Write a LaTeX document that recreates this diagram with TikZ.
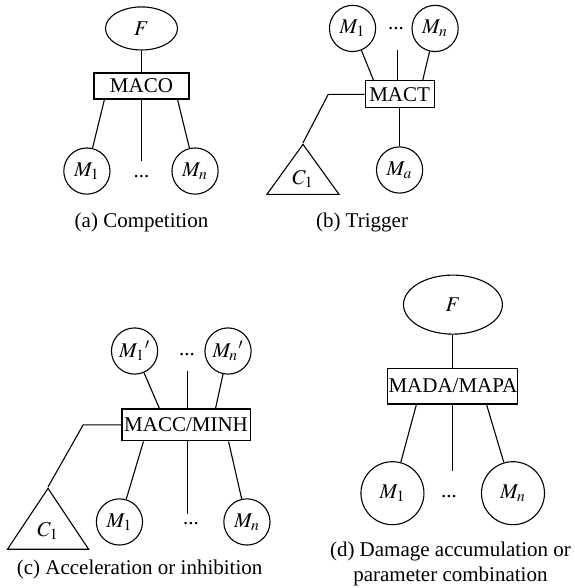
\documentclass[tikz,border=0pt]{standalone}
\usepackage{mathptmx}
\usepackage{fontspec}
\setmainfont{Liberation Serif}
\usepackage{tikz}
\usetikzlibrary{shapes, positioning}
\renewcommand{\normalsize}{\fontsize{10.5pt}{12.6pt}\selectfont}
\AtBeginDocument{\normalsize}
\tikzset{
    boxnode/.style = {draw, rectangle, inner sep = 0em, node distance=0em},
    circlenode/.style = {draw, circle, inner sep = 0em, node distance=0em, minimum size=2.2em},
    ellipsenode/.style = {draw, ellipse, inner sep = 0em, node distance=0em},
    trianglenode/.style = {draw, isosceles triangle, shape border rotate=90,
      isosceles triangle stretches, inner sep = 0em, node distance=0em},
    textnode/.style = {draw=none, fill=none, rectangle, inner sep = 0em, node distance=0em},
    link/.style = {black},
    every text node part/.style={align=center}
}

\begin{document}
\begin{tikzpicture}[line width=0.55pt, node distance=0em]
    \useasboundingbox (-70.75pt,43pt) rectangle (216.25pt,-251pt);

    % (a) competition
    \node [name=maco, boxnode, minimum width=4.52em, minimum height=1.24em] {MACO};
    \node [name=Fa, ellipsenode, minimum width=3.43em, minimum height=2.05em,
        above of = maco, yshift=2.74em] {$F$};
    \node [name=M1a, circlenode, right of = maco, xshift=-2.6em, yshift=-4.05em] {$M_1$};
    \node [name=Mna, circlenode, right of = maco, xshift=2.55em, yshift=-4.05em] {$M_n$};
    \node [name=dotsa, textnode, below of = maco, yshift=-4.33em] {...};
    \coordinate [below of = maco, yshift=-3.57em] (taila);
    \node [name=capa, textnode, below of = maco, yshift=-6.48em] {(a) Competition};

    \draw [link] (Fa) -- (maco);
    \draw [link] (M1a) -- ([xshift=0.52em]maco.south west);
    \draw [link] (maco) -- (taila);
    \draw [link] (Mna) -- ([xshift=-0.57em]maco.south east);

    % (b) trigger
    \node [name=mact, boxnode, minimum width=3.29em, minimum height=1.29em,
        right of = maco, xshift=12.29em, yshift=-0.4em] {MACT};
    \node [name=M1b, circlenode, right of = mact, xshift=-2.24em, yshift=3.14em] {$M_1$};
    \node [name=Mnb, circlenode, right of = mact, xshift=1.69em, yshift=3.14em] {$M_n$};
    \node [name=dotsb, textnode, right of = mact, xshift=-0.17em, yshift=3.12em] {...};
    \coordinate [right of = mact, xshift=-0.12em, yshift=2.12em] (tailb);
    \node [name=Mab, circlenode, below of = mact, yshift=-3.6em] {$M_a$};
    \coordinate [left of = mact, xshift=-3.4em] (bendb);
    \node [name=C1b, trianglenode, minimum width=3.43em, minimum height=2.38em,
        right of = mact, xshift=-4.6em, yshift=-2.31em, anchor=apex] {$C_1$};
    \node [name=capb, textnode, right of = mact, xshift=-1.79em, yshift=-6.1em] {(b) Trigger};

    \draw [link] (M1b) -- ([xshift=0.43em]mact.north west);
    \draw [link] (tailb) -- (tailb |- mact.north);
    \draw [link] (Mnb) -- ([xshift=-0.57em]mact.north east);
    \draw [link] (mact) -- (Mab);
    \draw [link] (mact) -- (bendb) -- (C1b.apex);

    % (c) acceleration or inhibition
    \node [name=macc, boxnode, minimum width=6.1em, minimum height=1.52em,
        right of = maco, xshift=2.12em, yshift=-16.14em] {MACC/MINH};
    \node [name=M1pc, circlenode, right of = macc, xshift=-2.45em, yshift=3.52em] {$M_1{}'$};
    \node [name=Mnpc, circlenode, right of = macc, xshift=2.0em, yshift=3.52em] {$M_n{}'$};
    \node [name=dotspc, textnode, right of = macc, xshift=0.05em, yshift=3.33em] {...};
    \coordinate [right of = macc, xshift=0.05em, yshift=2.57em] (tailpc);
    \node [name=M1c, circlenode, right of = macc, xshift=-3.17em, yshift=-4.62em] {$M_1$};
    \node [name=Mnc, circlenode, right of = macc, xshift=2.9em, yshift=-4.62em] {$M_n$};
    \node [name=dotsc, textnode, right of = macc, xshift=0.24em, yshift=-4.71em] {...};
    \coordinate [right of = macc, xshift=0.05em, yshift=-4.24em] (tailc);
    \coordinate [left of = macc, xshift=-4.9em] (bendc);
    \node [name=C1c, trianglenode, minimum width=3.86em, minimum height=2.9em,
        right of = macc, xshift=-6.57em, yshift=-2.95em, anchor=apex] {$C_1$};
    \node [name=capc, textnode, right of = macc, xshift=-2.21em, yshift=-6.86em]
        {(c) Acceleration or inhibition};

    \draw [link] (M1pc) -- ([xshift=1.81em]macc.north west);
    \draw [link] (tailpc) -- (tailpc |- macc.north);
    \draw [link] (Mnpc) -- ([xshift=-1.67em]macc.north east);
    \draw [link] (M1c) -- ([xshift=1.05em]macc.south west);
    \draw [link] (tailc) -- (tailc |- macc.south);
    \draw [link] (Mnc) -- ([xshift=-1.05em]macc.south east);
    \draw [link] (macc) -- (bendc) -- (C1c.apex);

    % (d) damage accumulation or parameter combination
    \node [name=mada, boxnode, minimum width=6.19em, minimum height=1.71em,
        right of = maco, xshift=14.83em, yshift=-14.29em] {MADA/MAPA};
    \node [name=Fd, ellipsenode, minimum width=4.71em, minimum height=2.81em,
        above of = mada, yshift=3.88em] {$F$};
    \node [name=M1d, circlenode, minimum size=3em, right of = mada, xshift=-2.88em, yshift=-5.1em] {$M_1$};
    \node [name=Mnd, circlenode, minimum size=3em, right of = mada, xshift=2.86em, yshift=-5.1em] {$M_n$};
    \node [name=dotsd, textnode, right of = mada, xshift=-0.19em, yshift=-5.24em] {...};
    \coordinate [below of = mada, yshift=-4.05em] (taild);
    \node [name=capd, textnode, right of = mada, xshift=-0.12em, yshift=-8.48em]
        {(d) Damage accumulation or\\parameter combination};

    \draw [link] (Fd) -- (mada);
    \draw [link] (M1d) -- ([xshift=1.38em]mada.south west);
    \draw [link] (mada) -- (taild);
    \draw [link] (Mnd) -- ([xshift=-1.52em]mada.south east);
\end{tikzpicture}
\end{document}
